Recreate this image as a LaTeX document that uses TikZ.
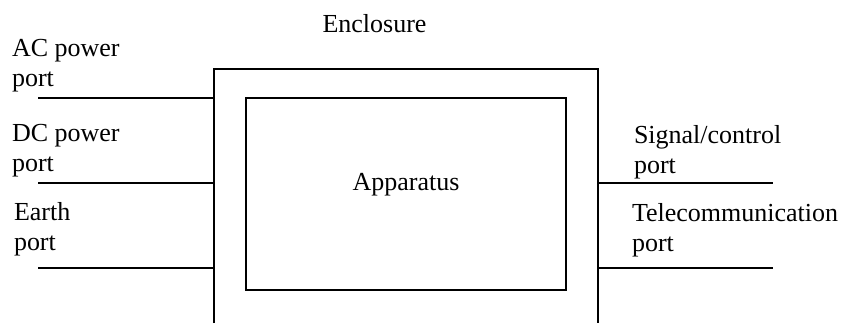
\documentclass[tikz,border=0pt]{standalone}
\usepackage{fontspec}
\setmainfont{Liberation Serif}
\usetikzlibrary{positioning}

\begin{document}
\begin{tikzpicture}[x=0.5pt, y=-0.5pt, line width=1pt,
    txt/.style={font=\fontsize{13}{15}\selectfont},
    portlbl/.style={txt, anchor=north west, inner sep=0pt, align=left},
    appbox/.style={draw, minimum width=160pt, minimum height=96pt, inner sep=0pt}]
        \useasboundingbox (0,0) rectangle (842,323);

        % enclosure, open at the bottom
        \coordinate (encBL) at (214,323);
        \coordinate (encTL) at (214,69);
        \coordinate (encTR) at (598,69);
        \coordinate (encBR) at (598,323);
        \draw (encBL) -- (encTL) -- (encTR) -- (encBR);
        \node[txt, anchor=base] (enclosure) at (374.5,32) {Enclosure};

        % apparatus
        \node[appbox] (app) at (406,194) {};
        \node[txt, anchor=base] (apptext) at ([yshift=2pt]app.center) {Apparatus};

        % ports on the left
        \coordinate (acIn) at (214,98);
        \coordinate (dcIn) at (214,183);
        \coordinate (earthIn) at (214,268);
        \coordinate (acEnd) at (38,98);
        \coordinate (dcEnd) at (38,183);
        \coordinate (earthEnd) at (38,268);
        \draw (acEnd) -- (acIn);
        \draw (dcEnd) -- (dcIn);
        \draw (earthEnd) -- (earthIn);
        \node[portlbl] (ac) at (11,38) {AC power\\port};
        \node[portlbl] (dc) at (11,123) {DC power\\port};
        \node[portlbl] (earth) at (13,201) {Earth\\port};

        % ports on the right
        \coordinate (sigOut) at (598,183);
        \coordinate (telOut) at (598,268);
        \coordinate (sigEnd) at (773,183);
        \coordinate (telEnd) at (773,268);
        \draw (sigOut) -- (sigEnd);
        \draw (telOut) -- (telEnd);
        \node[portlbl] (signal) at (633,124) {Signal/control\\port};
        \node[portlbl] (telecom) at (631,202) {Telecommunication\\port};
\end{tikzpicture}
\end{document}
